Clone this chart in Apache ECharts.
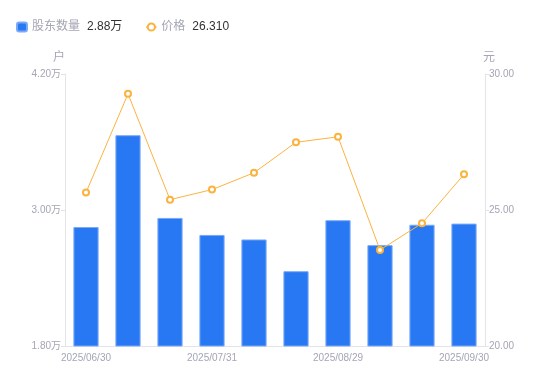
<!DOCTYPE html>
<html><head><meta charset="utf-8">
<script src="https://cdn.jsdelivr.net/npm/echarts@6/dist/echarts.min.js"></script>
<style>html,body{margin:0;padding:0;background:#fff}#c{width:550px;height:381px}</style>
</head><body><div id="c"></div>
<script>
const categories = ['2025/06/30','2025/07/10','2025/07/20','2025/07/31','2025/08/10','2025/08/20','2025/08/29','2025/09/10','2025/09/19','2025/09/30'];
const holders = [2.85, 3.66, 2.93, 2.78, 2.74, 2.46, 2.91, 2.69, 2.87, 2.88];
const prices = [25.64, 29.27, 25.38, 25.75, 26.37, 27.49, 27.69, 23.53, 24.51, 26.31];
const leftTicks = [1.8, 3.0, 4.2];
const rightTicks = [20, 25, 30];
const legendValues = {'股东数量': '2.88万', '价格': '26.310'};

const chart = echarts.init(document.getElementById('c'));
const grey = '#a3a6b4';
chart.setOption({
  animation: false,
  textStyle: {fontFamily: 'Liberation Sans, Noto Sans CJK SC, sans-serif'},
  legend: {
    left: 11, top: 16, itemWidth: 10, itemHeight: 9, itemGap: 23,
    formatter: n => '{a|' + n + '}{b|' + legendValues[n] + '}',
    textStyle: {rich: {a: {color: grey, fontSize: 12}, b: {color: '#333', fontSize: 12, padding: [0, 0, 0, 7]}}},
    data: [{name: '股东数量', icon: 'roundRect'}, {name: '价格', itemStyle: {borderWidth: 1.5}}]
  },
  grid: {left: 65, right: 65, top: 74, bottom: 35},
  xAxis: {
    type: 'category', data: categories,
    axisLine: {lineStyle: {color: '#e3e4e8'}},
    axisTick: {show: false},
    axisLabel: {color: grey, fontSize: 10, interval: 2, margin: 7}
  },
  yAxis: [{
    type: 'value', min: leftTicks[0], max: leftTicks[2], interval: 1.2,
    name: '户', nameTextStyle: {color: grey, fontSize: 12, padding: [0, 12, 0, 0]}, nameGap: 10,
    axisLine: {show: true, lineStyle: {color: '#e3e4e8'}},
    axisTick: {show: true, length: 4, lineStyle: {color: '#e3e4e8'}},
    splitLine: {show: false},
    axisLabel: {color: grey, fontSize: 10, margin: 4, formatter: v => v.toFixed(2) + '万'}
  }, {
    type: 'value', min: rightTicks[0], max: rightTicks[2], interval: 5,
    name: '元', nameTextStyle: {color: grey, fontSize: 12, padding: [0, 0, 0, 8]}, nameGap: 10,
    axisLine: {show: true, lineStyle: {color: '#e3e4e8'}},
    axisTick: {show: true, length: 4, lineStyle: {color: '#e3e4e8'}},
    splitLine: {show: false},
    axisLabel: {color: grey, fontSize: 10, margin: 4, formatter: v => v.toFixed(2)}
  }],
  series: [{
    name: '股东数量', type: 'bar', data: holders, barWidth: '60%',
    itemStyle: {color: '#2878f4', borderColor: '#7aaaf7', borderWidth: 1}
  }, {
    name: '价格', type: 'line', yAxisIndex: 1, data: prices,
    symbol: 'emptyCircle', symbolSize: 6,
    lineStyle: {color: '#fbb33f', width: 1},
    itemStyle: {color: '#fbb33f', borderWidth: 2}
  }]
});
</script></body></html>
